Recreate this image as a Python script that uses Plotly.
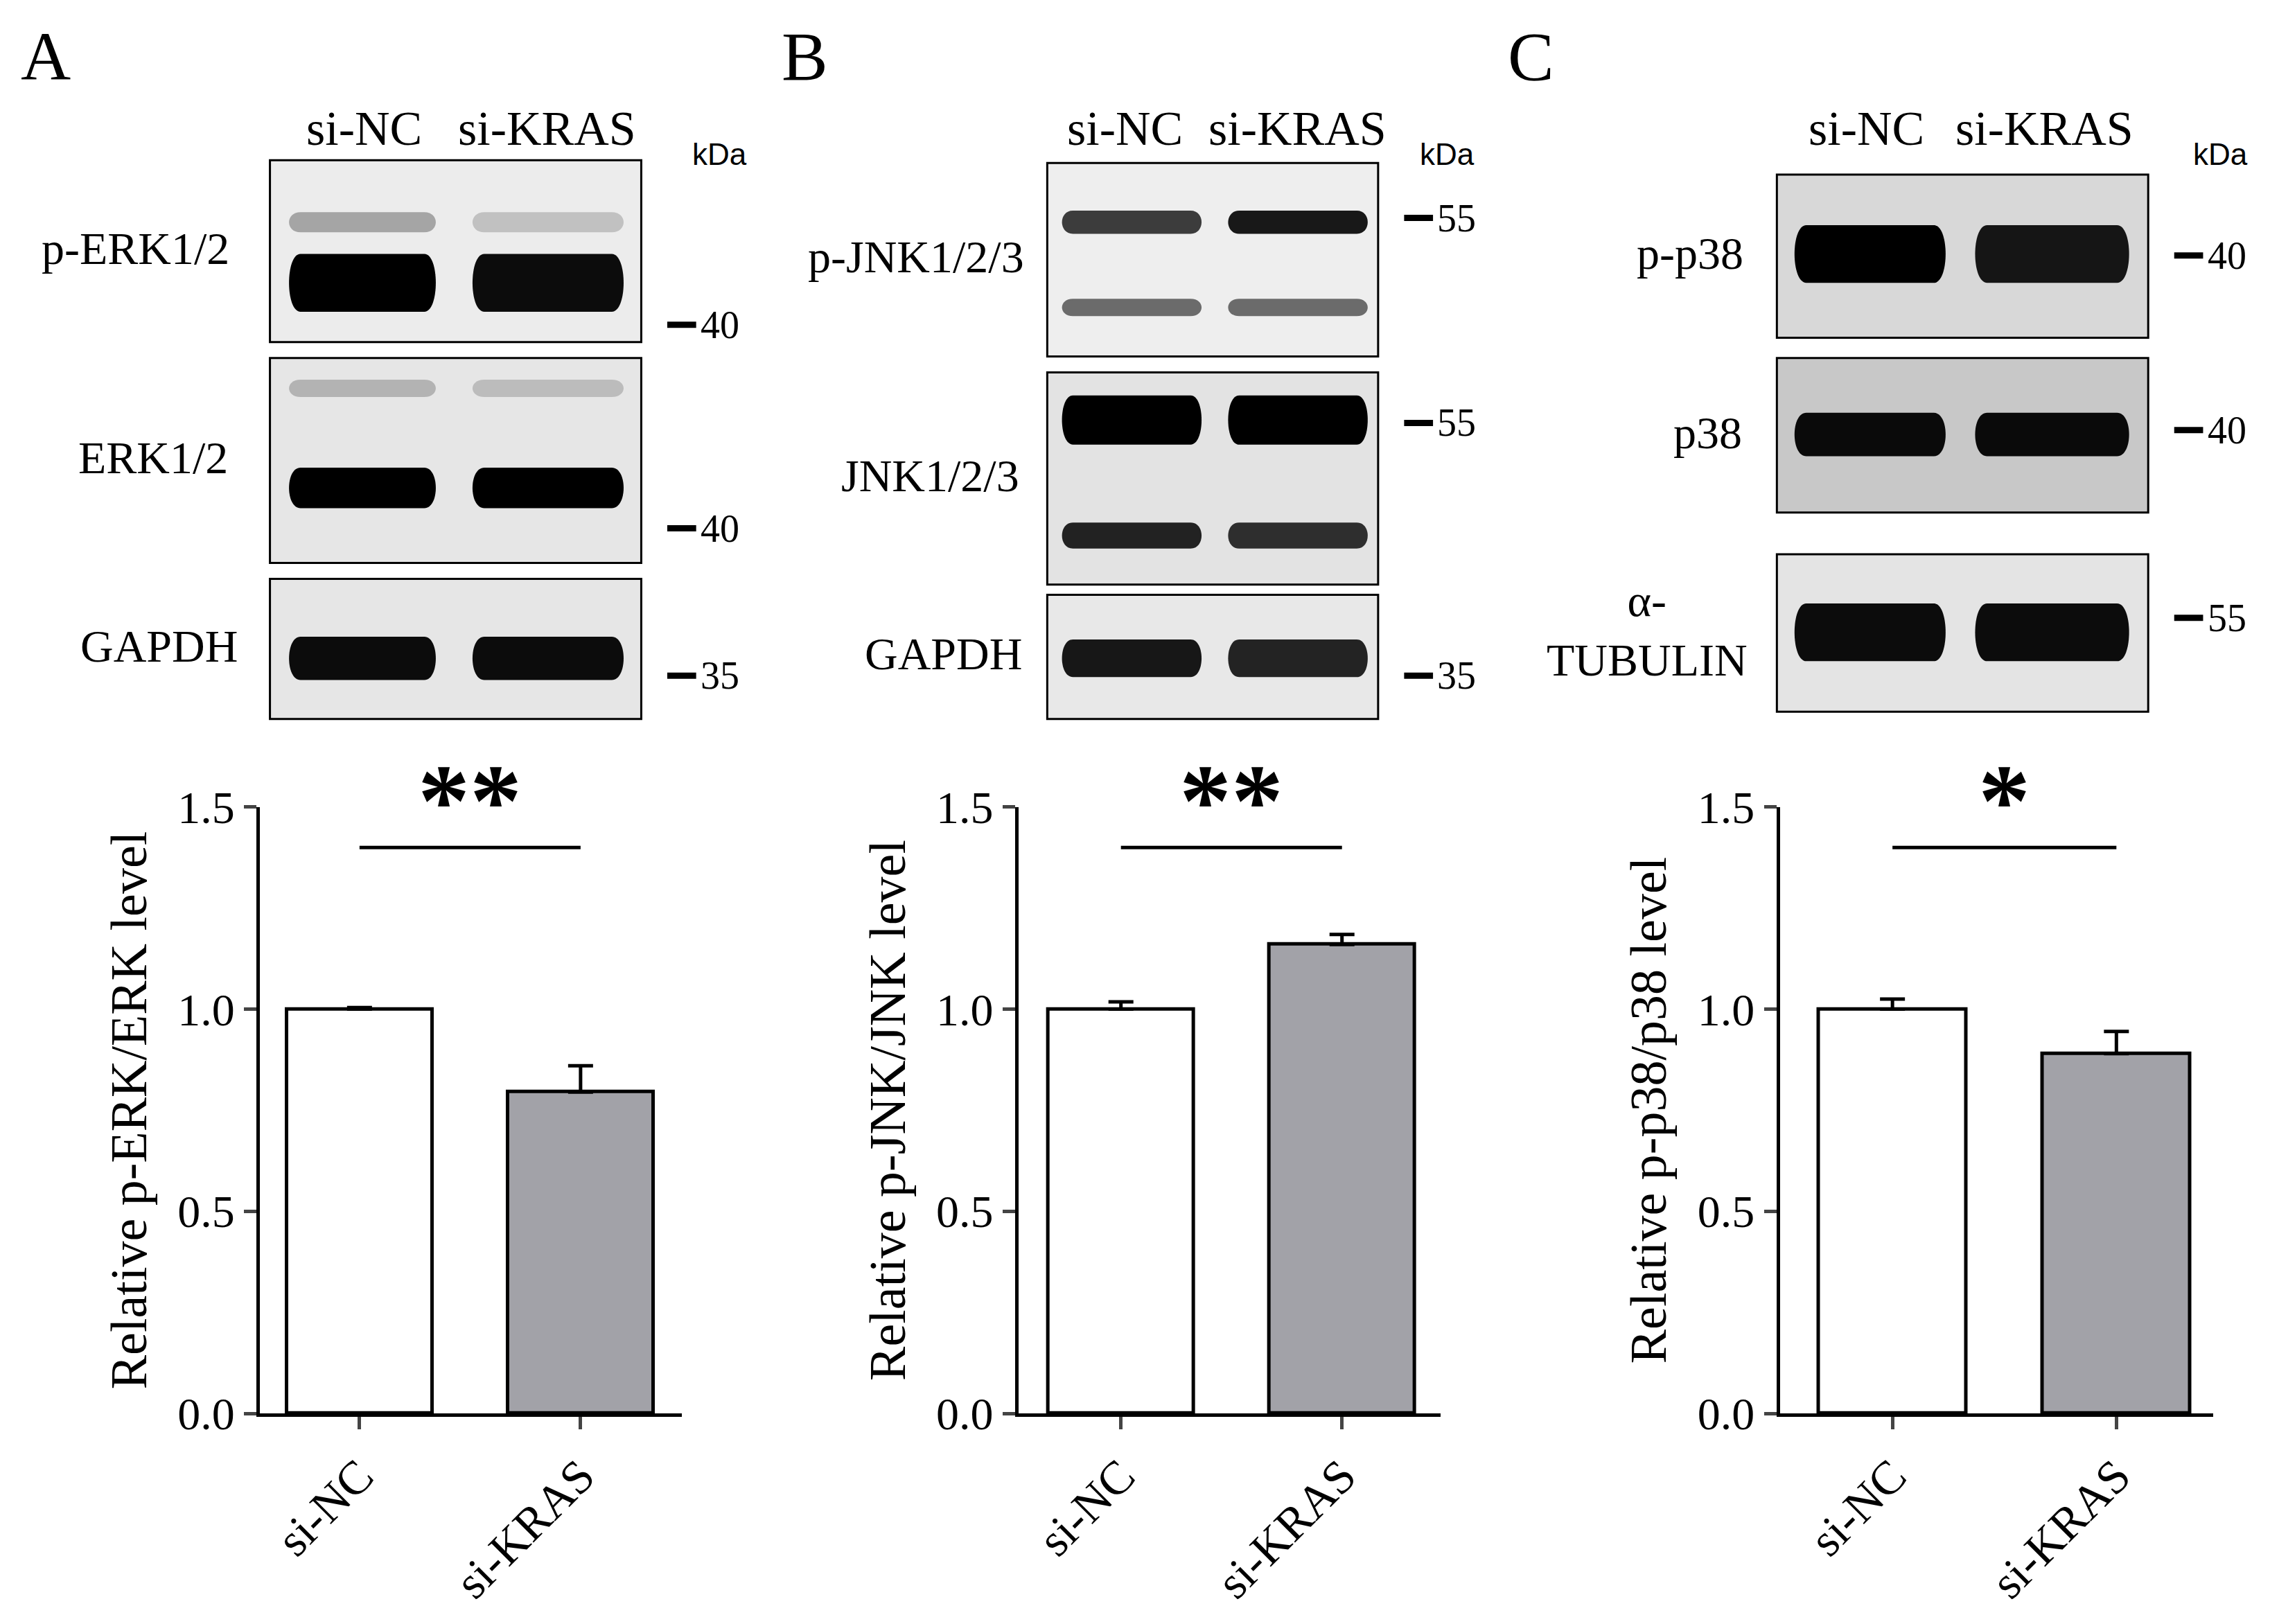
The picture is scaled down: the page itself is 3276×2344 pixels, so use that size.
import plotly.graph_objects as go

W, H = 3276, 2344
RW, RH = 1568, 1122
def px(x): return (x - 2) / RW * 0.998
def py(y): return 1 - ((y - 20.2) / 0.9712) / RH
FONT = "Liberation Serif"

groups = ["si-NC", "si-KRAS"]
erk_means = [1.0, 0.795]; erk_err = [0.004, 0.065]
jnk_means = [1.0, 1.16]; jnk_err = [0.018, 0.025]
p38_means = [1.0, 0.89]; p38_err = [0.025, 0.055]
stars = ["**", "**", "*"]
ytitles = ["Relative p-ERK/ERK level", "Relative p-JNK/JNK level", "Relative p-p38/p38 level"]
yticks = [0.0, 0.5, 1.0, 1.5]
bar_colors = ["white", "#a2a2a8"]

fig = go.Figure()
panels = [(erk_means, erk_err, 178, 247, 400, 470),
          (jnk_means, jnk_err, 703, 774, 927, 995),
          (p38_means, p38_err, 1230, 1308, 1463, 1530)]
for i, (m, e, ax0, c0, c1, ax1) in enumerate(panels):
    n = "" if i == 0 else str(i + 1)
    sp = c1 - c0
    xr = [-(c0 - ax0) / sp, 1 + (ax1 - c1) / sp]
    fig.add_trace(go.Bar(x=[0, 1], y=m, width=0.66, marker=dict(color=bar_colors, line=dict(color="black", width=5)),
                         error_y=dict(type="data", array=e, symmetric=False, arrayminus=[0, 0], color="black", thickness=5, width=18),
                         xaxis="x" + n, yaxis="y" + n, showlegend=False))
    fig.update_layout(**{
        "xaxis" + n: dict(domain=[px(ax0), px(ax1)], range=xr, anchor="y" + n, tickvals=[0, 1], ticktext=groups,
                          tickangle=-45, showline=True, linecolor="black", linewidth=5, ticks="outside", ticklen=18, tickwidth=5,
                          tickfont=dict(family=FONT, size=68, color="black"), showgrid=False, zeroline=False),
        "yaxis" + n: dict(domain=[py(978), py(558)], range=[0, 1.5], anchor="x" + n, tickvals=yticks, ticktext=["0.0", "0.5", "1.0", "1.5"],
                          showline=True, linecolor="black", linewidth=5, ticks="outside", ticklen=18, tickwidth=5,
                          tickfont=dict(family=FONT, size=66, color="black"), showgrid=False, zeroline=False,
                          title=dict(text=ytitles[i], font=dict(family=FONT, size=74, color="black"), standoff=22)),
    })
    fig.add_shape(type="line", xref="x" + n, yref="y" + n, x0=0, x1=1, y0=1.4, y1=1.4, line=dict(color="black", width=5))
    fig.add_annotation(xref="x" + n, yref="y" + n, x=0.5, y=1.37, text="<b>" + stars[i] + "</b>", showarrow=False,
                       xanchor="center", yanchor="bottom", font=dict(family=FONT, size=150, color="black"))

def band_path(x0, x1, y0, y1):
    r = (x1 - x0) * 0.08
    return (f"M {x0 + r},{y0} L {x1 - r},{y0} C {x1 + r * 0.3},{y0} {x1 + r * 0.3},{y1} {x1 - r},{y1} "
            f"L {x0 + r},{y1} C {x0 - r * 0.3},{y1} {x0 - r * 0.3},{y0} {x0 + r},{y0} Z")

def text(x, y, s, size, family=FONT, xanchor="center"):
    fig.add_annotation(xref="paper", yref="paper", x=px(x), y=py(y), text=s, showarrow=False,
                       xanchor=xanchor, yanchor="middle", font=dict(family=family, size=size, color="black"))

blot_lanes = [[(198, 300), (325, 430)], [(733, 830), (848, 945)], [(1240, 1345), (1365, 1472)]]
lane_label_x = [[250, 377], [777, 896], [1290, 1413]]
blots = [
    [(185, 442, 110, 236, "#ececec", "p-ERK1/2", 92, "40", 224, [(153, 14, [0.3, 0.18]), (195, 40, [1.0, 0.95])]),
     (185, 442, 247, 389, "#e6e6e6", "ERK1/2", 104, "40", 365, [(268, 12, [0.22, 0.18]), (337, 28, [1.0, 1.0])]),
     (185, 442, 400, 497, "#e6e6e6", "GAPDH", 108, "35", 467, [(455, 30, [0.95, 0.95])])],
    [(723, 952, 112, 246, "#eeeeee", "p-JNK1/2/3", 632, "55", 150, [(153, 16, [0.75, 0.9]), (212, 12, [0.55, 0.55])]),
     (723, 952, 257, 404, "#e3e3e3", "JNK1/2/3", 642, "55", 292, [(290, 34, [1.0, 1.0]), (370, 18, [0.85, 0.8])]),
     (723, 952, 411, 497, "#e8e8e8", "GAPDH", 651, "35", 467, [(455, 26, [0.9, 0.85])])],
    [(1228, 1485, 120, 233, "#d8d8d8", "p-p38", 1168, "40", 176, [(175, 40, [1.0, 0.9])]),
     (1228, 1485, 247, 354, "#c8c8c8", "p38", 1180, "40", 297, [(300, 30, [0.95, 0.95])]),
     (1228, 1485, 383, 492, "#e4e4e4", "α-<br>TUBULIN", 1138, "55", 427, [(437, 40, [0.95, 0.95])])],
]
for p, panel in enumerate(blots):
    for (x0, x1, y0, y1, bg, lab, lx, mk, my, bands) in panel:
        fig.add_shape(type="rect", xref="paper", yref="paper", x0=px(x0), x1=px(x1), y0=py(y1), y1=py(y0),
                      fillcolor=bg, line=dict(color="black", width=3), layer="below")
        for (yc, h, ints) in bands:
            for (lx0, lx1), a in zip(blot_lanes[p], ints):
                fig.add_shape(type="path", xref="paper", yref="paper",
                              path=band_path(px(lx0), px(lx1), py(yc + h / 2), py(yc - h / 2)),
                              fillcolor="black", opacity=a, line=dict(width=0))
        text(lx, (y0 + y1) / 2 - 2, lab, 66)
        fig.add_shape(type="line", xref="paper", yref="paper", x0=px(x1 + 18), x1=px(x1 + 38), y0=py(my), y1=py(my),
                      line=dict(color="black", width=9))
        text(x1 + 40, my, mk, 56, xanchor="left")
    for lxc, g in zip(lane_label_x[p], groups):
        text(lxc, 88, g, 70)
    text([496, 1000, 1535][p], 106, "kDa", 44, family="Liberation Sans")

for t, x in zip(["A", "B", "C"], [30, 555, 1058]):
    text(x, 38, t, 100)

fig.update_layout(width=W, height=H, margin=dict(l=0, r=0, t=0, b=0), paper_bgcolor="white", plot_bgcolor="white",
                  bargap=0)
fig.write_html("out.html")
